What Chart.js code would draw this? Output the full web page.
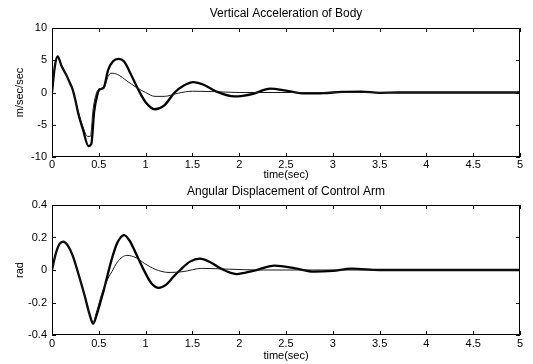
<!DOCTYPE html>
<html>
<head>
<meta charset="utf-8">
<script src="https://cdn.jsdelivr.net/npm/chart.js@4"></script>
<style>
  body { margin: 0; background: #fff; }
  canvas { display: block; }
</style>
</head>
<body>
<canvas id="accChart" width="533" height="182"></canvas>
<canvas id="angChart" width="533" height="182"></canvas>
<script>
// x ticks (time, sec)
const timeTicks = [0, 0.5, 1, 1.5, 2, 2.5, 3, 3.5, 4, 4.5, 5];
const accTicks = [-10, -5, 0, 5, 10];
const angTicks = [-0.4, -0.2, 0, 0.2, 0.4];

// vertical acceleration of body, thick curve
const accThickT = [0, 0.03, 0.06, 0.1, 0.16, 0.19, 0.22, 0.25, 0.28, 0.33, 0.39, 0.42, 0.45, 0.48, 0.51, 0.55, 0.6, 0.65, 0.71, 0.77, 0.85, 0.92, 1.0, 1.1, 1.2, 1.31, 1.4, 1.51, 1.62, 1.75, 1.95, 2.15, 2.33, 2.5, 2.7, 2.9, 3.1, 3.3, 3.5, 3.7, 4, 5];
const accThickV = [0, 4, 5.6, 4.2, 2.5, 1.5, 0.5, -1.2, -3.2, -5.7, -8.3, -8, -3, -0.6, 0.5, 0.7, 3.5, 4.8, 5.2, 4.8, 2.6, 0.5, -1.5, -2.6, -2.0, 0, 1.0, 1.6, 1.2, 0.2, -0.6, -0.2, 0.6, 0.3, -0.15, -0.1, 0.1, 0.15, -0.05, 0, 0, 0];
// vertical acceleration of body, thin curve
const accThinT = [0, 0.03, 0.06, 0.1, 0.16, 0.19, 0.22, 0.25, 0.28, 0.33, 0.38, 0.41, 0.44, 0.47, 0.51, 0.55, 0.6, 0.63, 0.7, 0.8, 0.9, 1.0, 1.1, 1.2, 1.35, 1.5, 1.7, 2, 2.5, 5];
const accThinV = [0, 4, 5.5, 4.2, 2.5, 1.5, 0.5, -1.2, -3, -5.3, -6.8, -6.8, -2.5, -0.3, 0.6, 0.6, 2.5, 3.0, 2.8, 1.8, 0.8, 0, -0.6, -0.6, -0.1, 0.2, 0.15, 0, 0, 0];

// angular displacement of control arm, thick curve
const angThickT = [0, 0.04, 0.08, 0.12, 0.17, 0.22, 0.28, 0.35, 0.4, 0.44, 0.48, 0.55, 0.64, 0.7, 0.77, 0.83, 0.89, 0.99, 1.06, 1.14, 1.22, 1.3, 1.37, 1.47, 1.58, 1.7, 1.8, 1.97, 2.15, 2.38, 2.6, 2.8, 3.0, 3.2, 3.5, 4, 5];
const angThickV = [0, 0.1, 0.16, 0.175, 0.15, 0.09, -0.02, -0.16, -0.27, -0.33, -0.27, -0.13, 0.07, 0.17, 0.215, 0.18, 0.11, -0.01, -0.08, -0.11, -0.09, -0.04, 0, 0.05, 0.07, 0.045, 0.01, -0.025, -0.005, 0.027, 0.01, -0.01, -0.005, 0.008, 0, 0, 0];
// angular displacement of control arm, thin curve
const angThinT = [0, 0.04, 0.08, 0.12, 0.17, 0.22, 0.28, 0.35, 0.4, 0.44, 0.48, 0.53, 0.6, 0.64, 0.7, 0.8, 0.9, 0.99, 1.1, 1.25, 1.4, 1.6, 1.9, 2.2, 5];
const angThinV = [0, 0.1, 0.16, 0.175, 0.15, 0.09, -0.02, -0.16, -0.27, -0.32, -0.25, -0.15, -0.05, -0.01, 0.05, 0.09, 0.075, 0.04, 0.005, -0.015, -0.01, 0.01, 0.005, 0, 0];

const FONT = "'Liberation Sans', Arial, sans-serif";

const toPoints = (ts, vs) => ts.map((t, i) => ({ x: t, y: vs[i] }));

// MATLAB-style box with inward tick marks
const boxTicks = {
  id: "boxTicks",
  afterDraw(chart) {
    const { ctx, chartArea: a, scales } = chart;
    const x = scales.x, y = scales.y;
    ctx.save();
    ctx.strokeStyle = "#000";
    ctx.lineWidth = 1;
    ctx.strokeRect(a.left + 0.5, a.top + 0.5, a.right - a.left - 1, a.bottom - a.top - 1);
    ctx.beginPath();
    x.ticks.forEach((t) => {
      const px = Math.round(x.getPixelForValue(t.value)) + 0.5;
      ctx.moveTo(px, a.bottom); ctx.lineTo(px, a.bottom - 4);
      ctx.moveTo(px, a.top); ctx.lineTo(px, a.top + 4);
    });
    y.ticks.forEach((t) => {
      const py = Math.round(y.getPixelForValue(t.value)) + 0.5;
      ctx.moveTo(a.left, py); ctx.lineTo(a.left + 4, py);
      ctx.moveTo(a.right, py); ctx.lineTo(a.right - 4, py);
    });
    ctx.stroke();
    ctx.restore();
  },
};

function makeChart(id, opts) {
  return new Chart(document.getElementById(id), {
    type: "line",
    data: {
      datasets: [
        {
          data: toPoints(opts.thinT, opts.thinV),
          borderColor: "#1a1a1a",
          borderWidth: 1,
          pointRadius: 0,
          cubicInterpolationMode: "monotone",
        },
        {
          data: toPoints(opts.thickT, opts.thickV),
          borderColor: "#000",
          borderWidth: 2.3,
          pointRadius: 0,
          cubicInterpolationMode: "monotone",
        },
      ],
    },
    options: {
      responsive: false,
      animation: false,
      events: [],
      layout: { padding: { left: 0, right: 13, top: 0, bottom: 0 } },
      plugins: {
        legend: { display: false },
        tooltip: { enabled: false },
        title: {
          display: true,
          fullSize: false,
          text: opts.title,
          color: "#000",
          font: { family: FONT, size: 12, weight: "normal" },
          padding: opts.titlePad,
        },
      },
      scales: {
        x: {
          type: "linear",
          min: 0,
          max: 5,
          afterBuildTicks: (s) => { s.ticks = timeTicks.map((v) => ({ value: v })); },
          afterFit: (s) => { s.height = opts.xHeight; },
          grid: { display: false, drawTicks: false },
          border: { display: false },
          ticks: {
            color: "#000", padding: opts.xTickPad, maxRotation: 0,
            font: { family: FONT, size: 11 },
            callback: (v) => String(v),
          },
          title: {
            display: true,
            text: "time(sec)",
            color: "#000",
            font: { family: FONT, size: 11 },
            padding: { top: 0, bottom: opts.xTitlePad },
          },
        },
        y: {
          min: opts.yTicks[0],
          max: opts.yTicks[opts.yTicks.length - 1],
          afterBuildTicks: (s) => { s.ticks = opts.yTicks.map((v) => ({ value: v })); },
          afterFit: (s) => { s.width = 52; },
          grid: { display: false, drawTicks: false },
          border: { display: false },
          ticks: {
            color: "#000", padding: 5,
            font: { family: FONT, size: 11 },
            callback: (v) => String(v),
          },
          title: {
            display: true,
            text: opts.yLabel,
            color: "#000",
            font: { family: FONT, size: 11 },
            padding: { top: 13, bottom: 0 },
          },
        },
      },
    },
    plugins: [boxTicks],
  });
}

makeChart("accChart", {
  title: "Vertical Acceleration of Body",
  titlePad: { top: 6.8, bottom: 6.8 },
  thickT: accThickT, thickV: accThickV,
  thinT: accThinT, thinV: accThinV,
  yTicks: accTicks,
  yLabel: "m/sec/sec",
  xHeight: 25,
  xTickPad: 1,
  xTitlePad: 0.5,
});

makeChart("angChart", {
  title: "Angular Displacement of Control Arm",
  titlePad: { top: 2.8, bottom: 5.8 },
  thickT: angThickT, thickV: angThickV,
  thinT: angThinT, thinV: angThinV,
  yTicks: angTicks,
  yLabel: "rad",
  xHeight: 29,
  xTickPad: 2,
  xTitlePad: 1.5,
});
</script>
</body>
</html>
